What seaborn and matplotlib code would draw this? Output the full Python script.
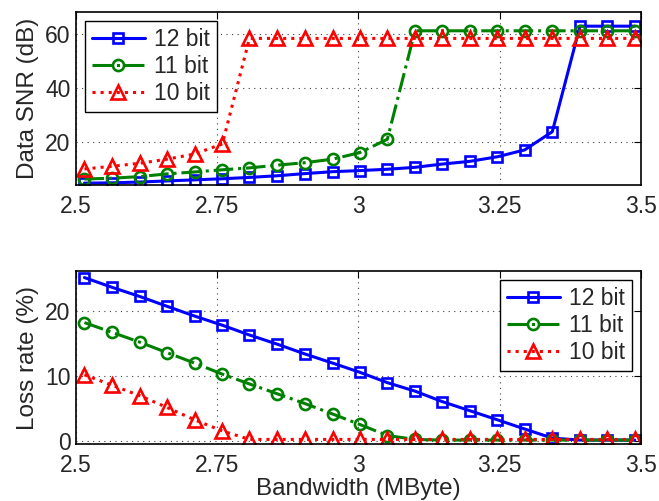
import matplotlib
matplotlib.use("Agg")
import matplotlib.pyplot as plt
import seaborn as sns
import pandas as pd

# ---- data ----
bandwidth = [2.515, 2.564, 2.613, 2.661, 2.710, 2.759, 2.807, 2.856, 2.905, 2.954,
             3.002, 3.051, 3.100, 3.148, 3.197, 3.246, 3.294, 3.343, 3.392, 3.440, 3.489]

snr_12 = [5.0, 5.1, 5.4, 5.8, 6.2, 6.6, 7.1, 7.7, 8.5, 9.2,
          9.6, 10.1, 10.8, 12.0, 13.0, 14.7, 17.2, 23.9, 62.7, 62.7, 62.7]
snr_11 = [6.5, 6.8, 7.4, 8.4, 9.1, 9.9, 10.6, 11.6, 12.5, 13.8,
          16.2, 21.1, 61.0, 61.0, 61.0, 61.0, 61.0, 61.0, 61.0, 61.0, 61.0]
snr_10 = [10.2, 11.2, 12.3, 13.8, 15.7, 19.4, 58.2, 58.2, 58.2, 58.2,
          58.2, 58.2, 58.2, 58.2, 58.2, 58.2, 58.2, 58.2, 58.2, 58.2, 58.2]

loss_12 = [25.1, 23.6, 22.2, 20.7, 19.2, 17.8, 16.3, 14.9, 13.4, 12.0,
           10.6, 9.0, 7.7, 6.1, 4.7, 3.3, 1.9, 0.5, 0.2, 0.2, 0.2]
loss_11 = [18.2, 16.7, 15.2, 13.6, 12.0, 10.3, 8.8, 7.3, 5.8, 4.2,
           2.6, 0.9, 0.3, 0.2, 0.2, 0.2, 0.2, 0.2, 0.2, 0.2, 0.2]
loss_10 = [10.2, 8.6, 7.0, 5.2, 3.3, 1.6, 0.3, 0.3, 0.3, 0.3,
           0.3, 0.3, 0.3, 0.3, 0.3, 0.3, 0.3, 0.3, 0.3, 0.3, 0.3]

labels = ["12 bit", "11 bit", "10 bit"]
xticks = [2.5, 2.75, 3.0, 3.25, 3.5]
xticklabels = ["2.5", "2.75", "3", "3.25", "3.5"]
snr_yticks = [20, 40, 60]
loss_yticks = [0, 10, 20]

# ---- style ----
sns.set_style("white")
plt.rcParams["font.family"] = ["Liberation Sans", "DejaVu Sans"]
plt.rcParams["font.size"] = 16
plt.rcParams["xtick.direction"] = "in"
plt.rcParams["ytick.direction"] = "in"

styles = [
    dict(color=(0, 0, 1), marker="s", linestyle="-", markersize=7),
    dict(color=(0, 0.5, 0), marker="o", linestyle="-.", markersize=8),
    dict(color=(1, 0, 0), marker="^", linestyle=":", markersize=10),
]

fig = plt.figure(figsize=(6.59, 5.01), dpi=100)
ax1 = fig.add_axes([0.1153, 0.6307, 0.8574, 0.3453])
ax2 = fig.add_axes([0.1153, 0.1138, 0.8574, 0.3452])


def draw(ax, series, ylim, yticks, legend_loc):
    for lab, ys, st in zip(labels, series, styles):
        df = pd.DataFrame({"x": bandwidth, "y": ys})
        sns.lineplot(data=df, x="x", y="y", ax=ax, label=lab, sort=False,
                     estimator=None, color=st["color"], marker=st["marker"],
                     linestyle=st["linestyle"], markersize=st["markersize"],
                     markerfacecolor="none", markeredgecolor=st["color"],
                     markeredgewidth=1.9, linewidth=2.2, clip_on=True)
    ax.set_xlim(2.5, 3.5)
    ax.set_ylim(*ylim)
    ax.set_xticks(xticks)
    ax.set_xticklabels(xticklabels)
    ax.set_yticks(yticks)
    ax.grid(True, color="0.25", linestyle=(0, (1, 4)), linewidth=0.8)
    ax.tick_params(axis="both", which="both", direction="in", length=5,
                   width=0.8, top=True, right=True, labelsize=16.5,
                   color="black")
    ax.tick_params(axis="x", pad=7)
    ax.tick_params(axis="y", pad=4)
    for sp in ax.spines.values():
        sp.set_visible(True)
        sp.set_color("black")
        sp.set_linewidth(1.2)
    leg = ax.legend(loc=legend_loc, fontsize=16.5, frameon=True, fancybox=False,
                    framealpha=1, edgecolor="black", handlelength=2.3,
                    handletextpad=0.4, labelspacing=0.18, borderpad=0.3,
                    borderaxespad=0.4)
    leg.get_frame().set_linewidth(1.0)


draw(ax1, [snr_12, snr_11, snr_10], (4.3, 67.9), snr_yticks, "upper left")
draw(ax2, [loss_12, loss_11, loss_10], (-0.4, 26.1), loss_yticks, "upper right")

ax1.set_xlabel("")
ax1.set_ylabel("Data SNR (dB)", fontsize=17.5, labelpad=4)
ax2.set_ylabel("Loss rate (%)", fontsize=17.5, labelpad=4)
ax2.set_xlabel("Bandwidth (MByte)", fontsize=17.5, labelpad=1)

fig.savefig("out.png", dpi=100)
